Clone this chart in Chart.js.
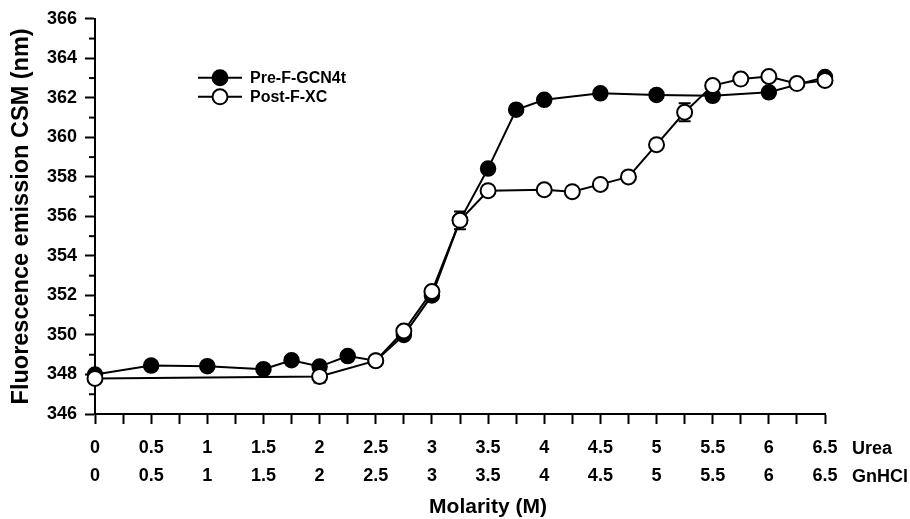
<!DOCTYPE html>
<html lang="en">
<head>
<meta charset="UTF-8">
<title>Fluorescence emission CSM vs molarity</title>
<script src="https://cdn.jsdelivr.net/npm/chart.js"></script>
<style>
    body { margin: 0; background: #fff; }
    #wrap { width: 910px; height: 519px; }
</style>
</head>
<body>
<div id="wrap"><canvas id="chart" width="910" height="519"></canvas></div>
<script>
// Pre-F-GCN4t (filled circles)
const preX = [0, 0.5, 1, 1.5, 1.75, 2, 2.25, 2.5, 2.75, 3, 3.25, 3.5, 3.75, 4, 4.5, 5, 5.5, 6, 6.5];
const preY = [348.0, 348.45, 348.42, 348.27, 348.72, 348.4, 348.93, 348.7, 350.0, 352.0, 355.8, 358.42, 361.4, 361.9, 362.23, 362.15, 362.1, 362.28, 363.05];
const preErr = [0, 0, 0, 0, 0, 0, 0, 0, 0, 0, 0, 0, 0, 0, 0, 0, 0, 0, 0];

// Post-F-XC (open circles)
const postX = [0, 2, 2.5, 2.75, 3, 3.25, 3.5, 4, 4.25, 4.5, 4.75, 5, 5.25, 5.5, 5.75, 6, 6.25, 6.5];
const postY = [347.8, 347.9, 348.7, 350.2, 352.2, 355.8, 357.3, 357.35, 357.25, 357.62, 358.0, 359.63, 361.27, 362.62, 362.95, 363.08, 362.72, 362.88];
const postErr = [0, 0.3, 0, 0.25, 0, 0.45, 0.25, 0, 0.15, 0.1, 0, 0, 0.45, 0, 0.25, 0.2, 0.2, 0];

// two rows of x tick labels
const tickValues = [0, 0.5, 1, 1.5, 2, 2.5, 3, 3.5, 4, 4.5, 5, 5.5, 6, 6.5];
const ureaLabels = ['0', '0.5', '1', '1.5', '2', '2.5', '3', '3.5', '4', '4.5', '5', '5.5', '6', '6.5'];
const gnLabels   = ['0', '0.5', '1', '1.5', '2', '2.5', '3', '3.5', '4', '4.5', '5', '5.5', '6', '6.5'];
const rowNames = ['Urea', 'GnHCl'];

const seriesNames = ['Pre-F-GCN4t', 'Post-F-XC'];
const yTitle = 'Fluorescence emission CSM (nm)';
const xTitle = 'Molarity (M)';

const SANS = '"Liberation Sans", Arial, sans-serif';

const toPoints = (xs, ys) => xs.map((x, i) => ({ x: x, y: ys[i] }));

// error bars, drawn under the markers
const errorBars = {
    id: 'errorBars',
    beforeDatasetsDraw(chart) {
        const { ctx, scales: { x, y } } = chart;
        const errs = [preErr, postErr];
        ctx.save();
        ctx.strokeStyle = '#000';
        ctx.lineWidth = 2;
        chart.data.datasets.forEach((ds, d) => {
            ds.data.forEach((p, i) => {
                const e = errs[d][i];
                if (!e) return;
                const px = x.getPixelForValue(p.x);
                const top = y.getPixelForValue(p.y + e);
                const bot = y.getPixelForValue(p.y - e);
                ctx.beginPath();
                ctx.moveTo(px, top); ctx.lineTo(px, bot);
                ctx.moveTo(px - 6, top); ctx.lineTo(px + 6, top);
                ctx.moveTo(px - 6, bot); ctx.lineTo(px + 6, bot);
                ctx.stroke();
            });
        });
        ctx.restore();
    }
};

// minor y ticks, legend and extra axis texts
const extras = {
    id: 'extras',
    afterDraw(chart) {
        const { ctx, chartArea, scales: { x, y } } = chart;
        ctx.save();
        ctx.strokeStyle = '#000';
        ctx.lineWidth = 2;
        for (let v = y.min + 1; v < y.max; v += 2) {
            const py = y.getPixelForValue(v);
            ctx.beginPath();
            ctx.moveTo(chartArea.left - 6, py);
            ctx.lineTo(chartArea.left, py);
            ctx.stroke();
        }

        // legend
        const lx = chartArea.left + 103;
        chart.data.datasets.forEach((ds, i) => {
            const ly = chartArea.top + 59 + i * 19;
            ctx.strokeStyle = '#000';
            ctx.lineWidth = 2;
            ctx.beginPath();
            ctx.moveTo(lx, ly); ctx.lineTo(lx + 44, ly);
            ctx.stroke();
            ctx.beginPath();
            ctx.arc(lx + 22, ly, ds.pointRadius, 0, Math.PI * 2);
            ctx.fillStyle = ds.pointBackgroundColor;
            ctx.fill();
            ctx.stroke();
            ctx.fillStyle = '#000';
            ctx.font = 'bold 16px ' + SANS;
            ctx.textBaseline = 'middle';
            ctx.textAlign = 'left';
            ctx.fillText(seriesNames[i], lx + 52, ly + 1);
        });

        // row names at the right of the tick labels
        ctx.font = 'bold 18px ' + SANS;
        ctx.textAlign = 'left';
        ctx.textBaseline = 'middle';
        rowNames.forEach((t, i) => {
            ctx.fillText(t, chartArea.right + 27, chartArea.bottom + 35 + i * 28);
        });

        // x title
        ctx.font = 'bold 21px ' + SANS;
        ctx.textAlign = 'center';
        ctx.fillText(xTitle, (chartArea.left + chartArea.right) / 2 + 28, chartArea.bottom + 93);
        ctx.restore();
    }
};

const ctx = document.getElementById('chart').getContext('2d');
new Chart(ctx, {
    type: 'line',
    data: {
        datasets: [
            {
                label: seriesNames[0],
                data: toPoints(preX, preY),
                borderColor: '#000',
                borderWidth: 2,
                pointRadius: 7.5,
                pointBackgroundColor: '#000',
                pointBorderColor: '#000',
                pointBorderWidth: 1.5,
                tension: 0,
                clip: false,
                order: 2
            },
            {
                label: seriesNames[1],
                data: toPoints(postX, postY),
                borderColor: '#000',
                borderWidth: 2,
                pointRadius: 7.5,
                pointBackgroundColor: '#fff',
                pointBorderColor: '#000',
                pointBorderWidth: 2,
                tension: 0,
                clip: false,
                order: 1
            }
        ]
    },
    options: {
        responsive: false,
        animation: false,
        layout: { padding: { left: 0, top: 18, right: 85, bottom: 0 } },
        plugins: {
            legend: { display: false },
            tooltip: { enabled: false }
        },
        scales: {
            x: {
                type: 'linear',
                min: 0,
                max: 6.5,
                border: { color: '#000', width: 2 },
                grid: { drawOnChartArea: false, tickLength: 10, tickColor: '#000', tickWidth: 2 },
                ticks: {
                    stepSize: 0.25,
                    autoSkip: false,
                    maxRotation: 0,
                    padding: 10,
                    color: '#000',
                    font: { family: SANS, size: 18, weight: 'bold', lineHeight: 1.55 },
                    callback: v => {
                        const i = tickValues.indexOf(v);
                        return i < 0 ? '' : [ureaLabels[i], gnLabels[i]];
                    }
                },
                afterFit: s => { s.height = 105; }
            },
            y: {
                min: 346,
                max: 366,
                border: { color: '#000', width: 2 },
                grid: { drawOnChartArea: false, tickLength: 10, tickColor: '#000', tickWidth: 2 },
                ticks: {
                    stepSize: 2,
                    padding: 8,
                    color: '#000',
                    font: { family: SANS, size: 18, weight: 'bold' }
                },
                title: {
                    display: true,
                    text: yTitle,
                    color: '#000',
                    font: { family: SANS, size: 23.5, weight: 'bold' },
                    padding: { top: 7, bottom: 0 }
                },
                afterFit: s => { s.width = 95; }
            }
        }
    },
    plugins: [errorBars, extras]
});
</script>
</body>
</html>
